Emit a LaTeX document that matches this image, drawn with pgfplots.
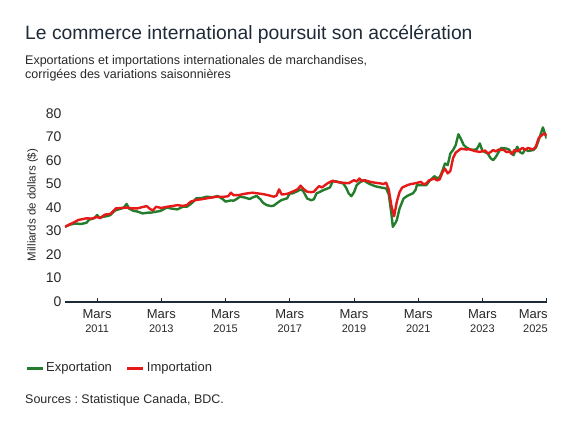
\documentclass[border=0pt]{standalone}
\usepackage{fontspec}
\setmainfont{Liberation Sans}
\usepackage{pgfplots}
\pgfplotsset{compat=1.18}
\frenchspacing
\definecolor{expgreen}{RGB}{35,125,45}
\definecolor{impred}{RGB}{230,25,25}
\definecolor{navy}{RGB}{30,42,56}
\definecolor{txt}{RGB}{40,40,40}
\newcommand{\mx}[1]{{\fontsize{13bp}{15bp}\selectfont Mars}\\[1.5bp]{\fontsize{11bp}{13bp}\selectfont #1}}
\newcommand{\mxr}[1]{\llap{\fontsize{13bp}{15bp}\selectfont Mars\hspace{-1bp}}\\[1.5bp]\llap{\fontsize{11bp}{13bp}\selectfont #1\hspace{-1bp}}}
\begin{document}
\begin{tikzpicture}
\path (0bp,0bp) rectangle (575bp,431bp);
\node[anchor=base west, inner sep=0, text=navy] at (25bp,391.5bp) {\fontsize{19.3bp}{23bp}\selectfont Le commerce international poursuit son accélération};
\node[anchor=base west, inner sep=0, text=txt, align=left] at (25bp,366.5bp) {\fontsize{12.5bp}{15bp}\selectfont Exportations et importations internationales de marchandises,};
\node[anchor=base west, inner sep=0, text=txt, align=left] at (25bp,352.5bp) {\fontsize{12.5bp}{15bp}\selectfont corrigées des variations saisonnières};
\node[rotate=90, inner sep=0, text=txt] at (32.5bp,226bp) {\fontsize{11.5bp}{13bp}\selectfont Milliards de dollars (\$)};
\node[anchor=base west, inner sep=0, text=txt] at (25bp,27.5bp) {\fontsize{12.5bp}{15bp}\selectfont Sources : Statistique Canada, BDC.};
\begin{axis}[
  at={(65bp,129.3bp)}, anchor=south west,
  scale only axis, width=481.7bp, height=188.4bp,
  xmin=0, xmax=180, ymin=0, ymax=80,
  axis x line*=bottom, axis y line*=left,
  y axis line style={draw=none},
  x axis line style={draw=navy, line width=1.8bp},
  ytick={0,10,...,80},
  ytick style={draw=none},
  xtick={12,36,60,84,108,132,156,180},
  xticklabels={\mx{2011},\mx{2013},\mx{2015},\mx{2017},\mx{2019},\mx{2021},\mx{2023},\mxr{2025}},
  xtick style={draw=navy, line width=1bp},
  major tick length=4bp, xtick align=inside,
  xticklabel style={align=center, text=txt, yshift=-4.5bp},
  yticklabel style={font=\fontsize{14bp}{16bp}\selectfont, text=txt, xshift=0bp},
  /pgf/number format/assume math mode=true,
  legend columns=2,
  legend style={at={(-0.083,-0.352)}, anchor=west, draw=none, fill=none, inner sep=0pt,
    font=\fontsize{13bp}{15bp}\selectfont, text=txt, /tikz/every even column/.append style={column sep=12bp}},
  legend cell align=left,
  legend image code/.code={\draw[#1, line width=3bp] (0bp,0bp) -- (16bp,0bp);},
  line join=round,
]
\addplot[expgreen, line width=2.4bp] coordinates {
(0,31.8)(2,32.8)(4,33.2)(6,33.0)(8,33.5)(9,34.8)(11,35.5)(12,36.8)(13,35.5)(14,36.0)
(16,36.4)(17,36.8)(18,38.0)(19,38.9)(21,39.5)(22,40.0)(23,41.5)(24,39.5)(25.5,38.6)(27,38.3)
(29,37.5)(31,37.8)(32,37.8)(34,38.2)(35.5,38.5)(37,39.3)(38,40.0)(40,39.5)(42,39.2)(44,40.3)
(45.5,40.3)(47,41.5)(48,42.5)(49,43.9)(51,44.0)(53,44.6)(55,44.3)(57,44.9)(59,43.5)(60,42.5)
(62,43.0)(63,42.9)(64,43.5)(65.4,44.6)(67,44.3)(69,43.6)(70,44.2)(71.6,44.9)(73,43.5)(74,42.0)
(75.4,41.0)(77,40.6)(78,40.8)(80,42.5)(81,43.2)(83,43.9)(84,46.0)(85,46.0)(87,47.0)(88,47.7)
(89,47.0)(90.5,43.8)(92,43.1)(93,43.5)(94,46.0)(95,46.5)(96.6,47.4)(99,48.5)(100,51.0)(101,51.2)
(103,50.5)(104,50.2)(105,48.5)(106,46.0)(107,44.8)(108,46.5)(109,49.5)(110,50.5)(111.5,51.6)(113,50.5)
(114,49.9)(116,49.0)(118,48.5)(120,48.1)(121,45.5)(122,37.0)(122.5,31.8)(123.5,33.5)(124,34.7)(125,39.5)
(126.5,43.8)(128,45.0)(130,46.0)(131,47.5)(131.5,49.5)(133,49.5)(135,49.5)(136,51.0)(138,53.3)(139,52.5)
(140,52.8)(141,55.5)(142,58.7)(143,58.0)(144,62.9)(145,64.4)(146,66.5)(147,71.1)(148,69.0)(149,66.5)
(150,65.5)(151.4,64.6)(153,64.5)(154,65.0)(155,67.2)(156,64.0)(157,63.5)(158,62.9)(159,61.0)(160,60.1)
(161,61.5)(162,63.5)(163,65.3)(165,65.0)(166,64.5)(167,62.8)(167.6,62.2)(169,65.8)(170,63.5)(171,62.9)
(172,64.8)(173,64.0)(175,64.4)(176,65.5)(177,68.6)(178,72.0)(178.6,74.0)(179,72.5)(180,69.3)
};
\addlegendentry{Exportation}
\addplot[impred, line width=2.4bp] coordinates {
(0,31.8)(2,33.0)(3,33.5)(5,34.7)(8,35.4)(10,35.3)(12,36.0)(13,35.5)(15,37.0)(17,37.3)
(19,39.6)(21,39.8)(23,40.0)(25,39.6)(27,39.6)(29,40.2)(30.5,40.6)(32,39.2)(33,38.9)(34,40.3)
(36,39.8)(38,40.3)(40,40.6)(42,41.0)(44,40.7)(45.5,41.0)(47,42.5)(49,43.2)(51,43.5)(53,43.9)
(55,44.3)(57,44.6)(59,44.5)(61,44.8)(62,46.3)(63,45.2)(65,45.3)(67,45.8)(70,46.3)(72,46.0)
(74,45.7)(76,45.2)(78,44.6)(79,45.0)(80,47.7)(81,45.5)(83,45.8)(85,46.7)(87,47.8)(88,49.3)
(89,48.0)(90.5,46.7)(92,46.5)(93,46.7)(94,48.0)(95,49.1)(96,48.5)(98,50.2)(100,51.4)(101,51.0)
(102,50.8)(104,50.5)(106,50.3)(108,51.6)(109,51.0)(110,52.3)(111,51.2)(112,51.6)(114,50.9)(116,50.5)
(118,50.2)(119,50.0)(120,50.5)(121,47.5)(122,40.5)(123,36.3)(124,42.5)(125,46.5)(126,48.5)(128,49.5)
(129,49.9)(131,50.3)(133,50.9)(134,49.8)(135,50.2)(136,51.5)(138,52.3)(139,51.5)(140,51.9)(141,54.8)
(142,56.5)(143,54.5)(144,55.5)(145,61.0)(146,63.3)(148,65.0)(150,64.6)(151,64.8)(153,64.0)(155,63.6)
(157,64.2)(158,62.9)(159,63.5)(160,64.4)(161,63.8)(162,64.6)(164,64.4)(165,63.5)(166,63.8)(167,62.7)
(168,64.5)(169,63.8)(171,65.3)(172,64.5)(173,65.3)(175,64.6)(176,66.0)(177,69.5)(178,70.5)(179,71.5)
(180,70.5)
};
\addlegendentry{Importation}
\end{axis}
\end{tikzpicture}
\end{document}
